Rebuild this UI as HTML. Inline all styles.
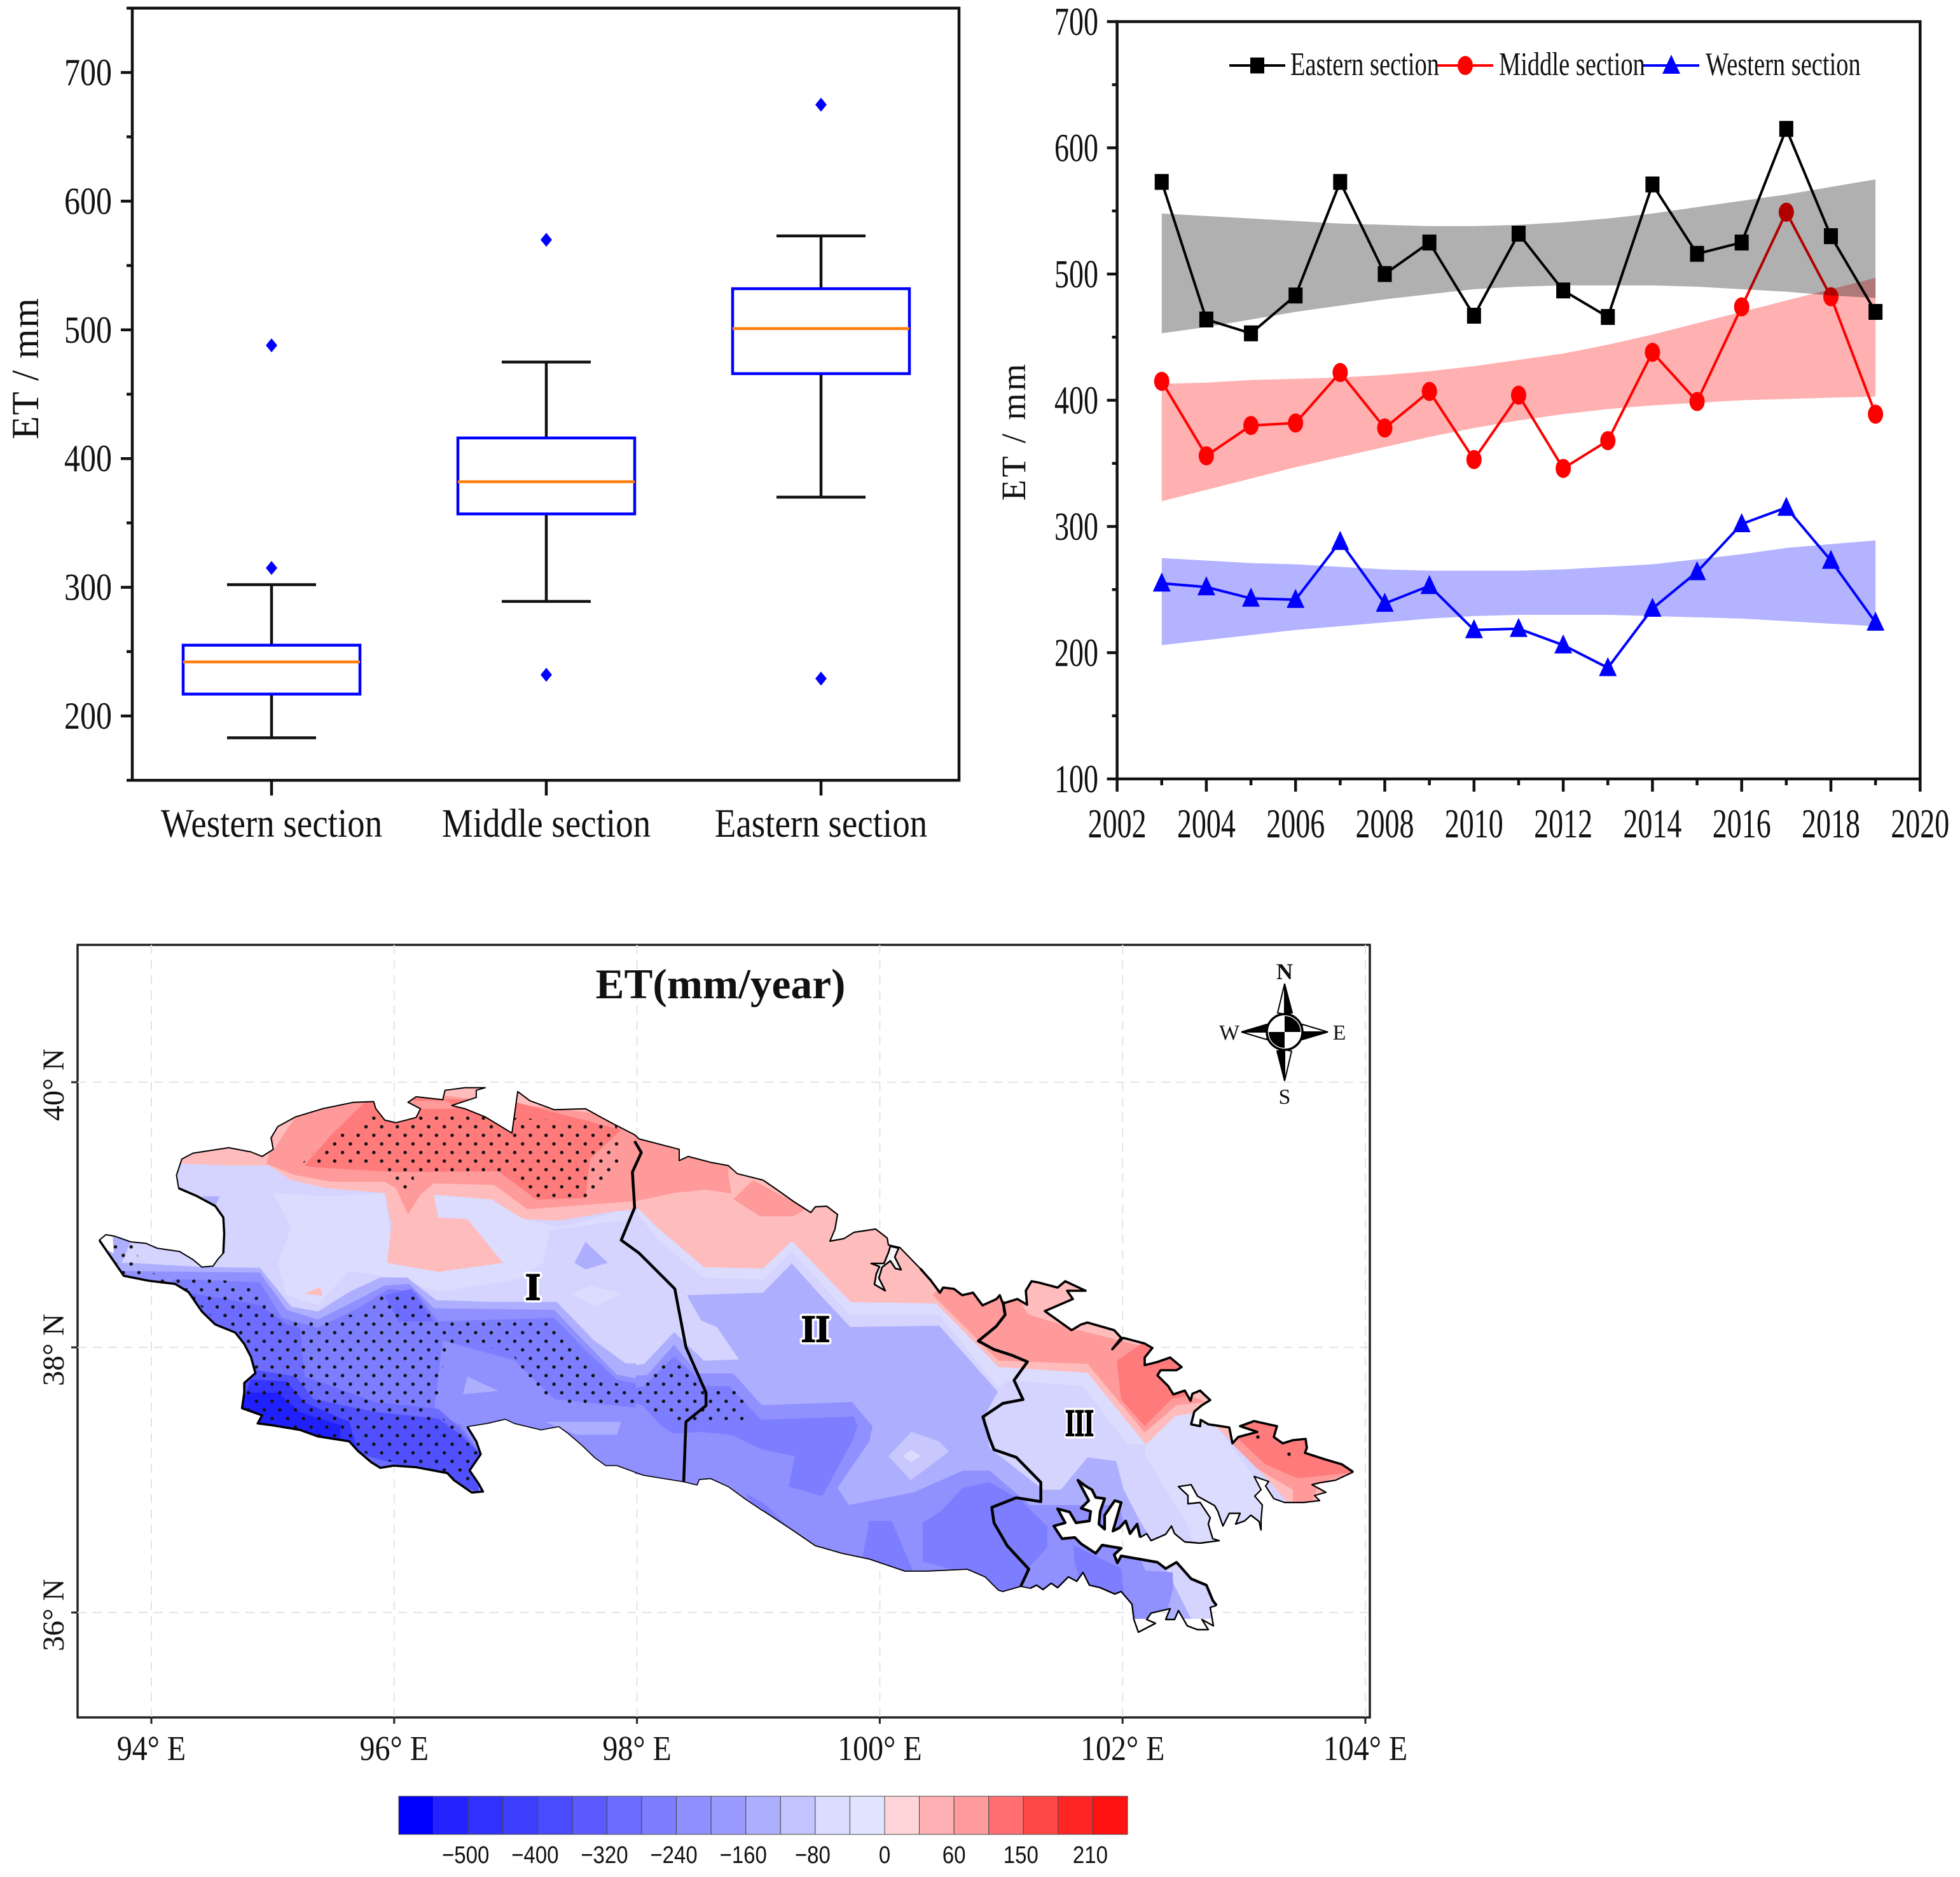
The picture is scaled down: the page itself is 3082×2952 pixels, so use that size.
<!DOCTYPE html>
<html lang="en">
<head>
<meta charset="utf-8">
<title>ET charts and map</title>
<style>
html,body{margin:0;padding:0;background:#fff}
svg{display:block}
text{font-family:"Liberation Serif",serif;fill:#111}
.sans{font-family:"Liberation Sans",sans-serif}
.nss{vector-effect:non-scaling-stroke}
.coast{fill:none;stroke:#000;stroke-linejoin:round;vector-effect:non-scaling-stroke}
.sec{fill:none;stroke:#000;stroke-width:4.5;stroke-linejoin:round;vector-effect:non-scaling-stroke}
</style>
</head>
<body>
<svg id="root" xmlns="http://www.w3.org/2000/svg" width="3082" height="2952" viewBox="0 0 3082 2952">
<rect width="3082" height="2952" fill="#fff"/>
<g id="boxChart"></g>
<g id="lineChart"></g>
<g id="mapAxes"></g>

<defs>
<pattern id="stipple" patternUnits="userSpaceOnUse" width="35.1" height="52.9">
<ellipse cx="11" cy="21.7" rx="3.85" ry="5.3" fill="#111"/>
<ellipse cx="28.5" cy="48.15" rx="3.85" ry="5.3" fill="#111"/>
<ellipse cx="28.5" cy="-4.75" rx="3.85" ry="5.3" fill="#111"/>
</pattern>
<clipPath id="clipLand">
<polygon transform="translate(100,1680) scale(.7015,.5102)" points="80,530 95,513 115,518 150,535 185,540 210,555 260,565 290,590 310,613 335,610 345,590 358,570 360,510 358,460 340,425 300,395 258,370 253,330 265,280 290,262 370,245 420,258 445,272 470,250 465,215 480,180 520,150 580,125 650,105 695,103 700,125 720,160 745,168 790,152 800,125 772,105 790,88 850,97 855,68 900,60 945,60 925,68 925,90 870,115 900,125 945,150 1005,200 1015,100 1018,72 1045,100 1100,128 1170,125 1230,170 1280,205 1290,218 1380,250 1380,285 1400,272 1450,290 1490,300 1510,325 1568,345 1568,1365 1530,1330 1490,1290 1450,1265 1425,1268 1420,1285 1390,1275 1300,1255 1240,1225 1215,1225 1190,1200 1160,1160 1130,1125 1110,1105 1070,1115 1010,1095 990,1082 950,1095 905,1105 925,1150 935,1190 910,1240 930,1280 940,1305 915,1308 875,1270 860,1248 790,1230 740,1225 710,1232 690,1215 660,1180 640,1150 570,1135 530,1115 465,1100 435,1095 445,1070 400,1048 405,1000 405,970 430,940 420,890 405,850 385,815 340,790 310,750 280,690 250,665 190,655 135,640 110,590 90,550"/>
<polygon points="998,1785 1005,1791 1068,1808 1068,1825 1082,1819 1117,1828 1145,1833 1159,1846 1200,1856 1226,1874 1247,1889 1275,1907 1282,1898 1300,1897 1317,1910 1313,1933 1305,1952 1327,1948 1343,1938 1377,1933 1395,1947 1397,1958 1415,1962 1447,1995 1463,2013 1478,2033 1483,2025 1500,2027 1513,2037 1530,2033 1545,2053 1567,2043 1572,2037 1577,2050 1600,2043 1615,2052 1613,2030 1622,2015 1633,2017 1663,2025 1675,2015 1707,2030 1678,2030 1687,2043 1643,2062 1685,2092 1700,2083 1710,2080 1752,2092 1763,2104 1749,2122 1766,2104 1800,2113 1812,2120 1800,2135 1800,2147 1820,2142 1840,2135 1858,2150 1850,2155 1825,2155 1820,2163 1837,2180 1845,2193 1863,2187 1872,2203 1875,2192 1887,2187 1903,2202 1890,2210 1878,2220 1873,2240 1887,2243 1888,2233 1900,2240 1933,2245 1938,2270 1947,2260 1977,2252 1950,2243 1972,2235 2008,2243 2003,2260 2017,2270 2033,2265 2053,2263 2055,2277 2052,2285 2083,2295 2110,2303 2128,2315 2100,2328 2075,2332 2063,2335 2085,2347 2067,2352 2075,2360 2050,2363 2020,2363 2003,2357 1990,2337 1995,2330 1972,2322 1983,2343 1973,2353 1985,2367 1983,2390 1983,2407 1980,2393 1967,2383 1957,2392 1943,2397 1950,2380 1933,2380 1923,2400 1915,2377 1910,2368 1883,2353 1873,2335 1853,2338 1868,2352 1868,2365 1887,2363 1903,2387 1900,2397 1907,2420 1917,2423 1887,2427 1863,2425 1847,2412 1842,2400 1833,2413 1810,2423 1803,2412 1793,2418 1788,2397 1777,2412 1770,2392 1760,2403 1750,2408 1763,2363 1753,2360 1737,2383 1737,2405 1728,2397 1730,2377 1737,2357 1723,2355 1717,2343 1707,2337 1695,2328 1703,2343 1712,2360 1700,2372 1715,2377 1713,2392 1692,2395 1682,2378 1663,2373 1675,2395 1657,2400 1670,2420 1690,2418 1700,2428 1723,2443 1733,2430 1763,2435 1752,2445 1757,2458 1763,2447 1820,2457 1833,2467 1850,2457 1873,2483 1897,2493 1907,2517 1913,2525 1903,2528 1908,2557 1890,2547 1900,2563 1883,2563 1867,2557 1853,2533 1847,2547 1833,2547 1840,2530 1810,2537 1803,2547 1817,2553 1790,2567 1783,2547 1780,2523 1763,2503 1753,2507 1730,2497 1713,2493 1703,2473 1693,2487 1680,2480 1663,2497 1653,2490 1640,2500 1630,2493 1620,2498 1605,2495 1577,2503 1570,2501 1549,2480 1521,2468 1458,2471 1423,2471 1367,2452 1324,2443 1300,2436 1282,2431 1247,2407 1200,2376 1173,2359 1145,2338 1117,2325 1100,2327 1096,2336 1075,2330 1012,2320 998,2318"/>
</clipPath>
</defs>

<g clip-path="url(#clipLand)">
<g transform="translate(100,1680) scale(.7015,.5102)">
<rect x="0" y="0" width="1568" height="1568" fill="#d4d4ff"/>
<polygon fill="#dcdcff" points="470,385 600,395 720,385 740,600 830,390 960,405 1030,465 1110,490 1250,440 1290,450 1250,470 1090,500 1075,600 1020,650 840,690 760,650 640,625 590,700 570,730 500,700 480,600 510,490"/>
<polygon fill="#ffbcbc" points="0,0 1568,0 1568,620 1440,610 1330,490 1290,435 1240,440 1110,470 1030,465 960,405 830,390 840,460 905,465 985,600 840,628 725,600 735,480 720,385 590,370 510,345 460,300 370,300 280,295 200,290"/>
<polygon fill="#ff9a9a" points="455,295 470,200 520,130 580,100 700,60 1568,200 1568,430 1500,400 1440,375 1370,385 1280,410 1040,435 965,360 830,355 800,390 772,450 745,370 720,350 600,350 520,330"/>
<polygon fill="#ffbcbc" points="470,180 520,150 490,210 470,255"/>
<polygon fill="#ff7a7a" points="540,300 600,205 675,105 700,90 1000,100 1250,190 1180,280 1170,400 1060,405 975,318 740,320 560,305"/>
<polygon fill="#ff9a9a" points="775,100 860,100 880,125 780,125"/>
<polygon fill="#aeaeff" points="310,395 350,395 340,425"/>
<polygon fill="#aeaeff" points="1145,600 1170,535 1220,600 1170,620"/>
<polygon fill="#dcdcff" points="1140,695 1180,670 1250,695 1190,735"/>
<polygon fill="#ffbcbc" points="540,695 575,675 580,702"/>
<polygon fill="#aeaeff" points="80,600 150,600 310,613 440,615 510,735 570,750 640,690 710,645 770,645 835,715 950,720 1105,720 1190,840 1260,910 1310,910 1370,810 1395,800 1395,700 1568,700 1568,1568 0,1568 0,600"/>
<polygon fill="#aeaeff" points="105,515 150,535 130,600 100,600"/>
<polygon fill="#9090ff" points="130,625 440,630 500,745 570,775 650,720 720,670 775,665 830,740 1100,745 1180,860 1240,945 1300,960 1370,860 1430,940 1490,950 1568,1000 1568,1568 0,1568 0,625"/>
<polygon fill="#7d7dff" points="250,650 440,660 490,770 570,800 660,740 730,680 790,690 840,780 1100,770 1170,870 1240,960 1310,980 1370,860 1430,960 1568,1000 1568,1150 1450,1120 1380,1130 1310,1050 1100,1020 1010,900 850,840 830,1060 890,1100 940,1200 900,1310 300,1200 100,800"/>
<polygon fill="#aeaeff" points="895,1005 905,950 975,995"/>
<polygon fill="#aeaeff" points="1080,1090 1250,1090 1240,1130 1150,1130"/>
<polygon fill="#6c6cff" points="270,690 440,730 500,790 530,800 540,950 700,1030 840,1050 880,1100 935,1190 900,1310 300,1200 150,640"/>
<polygon fill="#6c6cff" points="720,700 780,680 830,780 750,780"/>
<polygon fill="#5050ff" points="430,930 520,950 560,1020 700,1060 840,1080 890,1130 935,1190 930,1310 850,1260 640,1180 430,1100 390,1050 400,960"/>
<polygon fill="#3535ff" points="420,960 500,965 540,1030 640,1090 660,1180 430,1100 395,1050"/>
<polygon fill="#2020ff" points="410,1000 480,1000 530,1060 620,1100 620,1150 430,1100 395,1050"/>
<polygon fill="#fff" points="80,530 95,513 110,515 112,570 90,555"/>
</g>

<g>
<rect x="1000" y="1700" width="1200" height="900" fill="#d4d4ff"/>
<polygon fill="#ffbcbc" points="1000,1700 2200,1700 2200,2400 2030,2370 1997,2330 1917,2248 1880,2222 1848,2227 1802,2272 1710,2159 1570,2150 1472,2050 1338,2048 1245,1952 1200,1995 1107,1993 1033,1930 1005,1902 1000,1900"/>
<polygon fill="#ff9a9a" points="1000,1780 1210,1800 1145,1845 1150,1877 1110,1871 1061,1876 1000,1889"/>
<polygon fill="#ff9a9a" points="1153,1886 1184,1856 1268,1901 1247,1913 1195,1913"/>
<polygon fill="#ffbcbc" points="1145,1838 1180,1850 1152,1880"/>
<polygon fill="#dcdcff" points="1005,1902 1033,1930 1107,1993 1200,1995 1245,1952 1338,2048 1472,2050 1570,2150 1710,2159 1802,2272 1773,2272 1703,2180 1584,2171 1570,2183 1477,2068 1337,2068 1245,1968 1200,2012 1107,2010 1040,1955 1000,1907"/>
<polygon fill="#dcdcff" points="1800,2287 1867,2397 1877,2430 2000,2430 2000,2345 1970,2320 1917,2248 1880,2222 1848,2227 1802,2272"/>
<polygon fill="#aeaeff" points="1000,2147 1013,2145 1060,2095 1107,2140 1162,2138 1127,2087 1103,2077 1080,2037 1200,2033 1245,1987 1290,2037 1337,2087 1477,2085 1569,2189 1549,2225 1556,2277 1640,2343 1668,2343 1710,2292 1755,2298 1767,2343 1793,2393 1810,2420 1900,2600 1000,2600"/>
<polygon fill="#c8c8ff" points="1433,2252 1477,2267 1492,2283 1432,2328 1397,2290"/>
<polygon fill="#dcdcff" points="1433,2280 1447,2290 1433,2300 1420,2290"/>
<polygon fill="#9090ff" points="1000,2163 1017,2163 1060,2115 1097,2160 1153,2160 1198,2210 1340,2205 1372,2243 1367,2267 1317,2340 1335,2367 1437,2347 1514,2313 1556,2313 1620,2367 1760,2367 1767,2395 1801,2470 1844,2473 1845,2497 1837,2528 1790,2570 1000,2600"/>
<polygon fill="#7d7dff" points="1000,2183 1013,2180 1060,2133 1110,2180 1147,2180 1197,2233 1343,2228 1348,2243 1340,2267 1293,2353 1240,2338 1250,2290 1200,2280 1150,2257 1103,2252 1060,2255 1040,2243 1010,2210 1000,2207"/>
<polygon fill="#7d7dff" points="1451,2395 1479,2377 1514,2340 1556,2331 1605,2359 1647,2401 1647,2433 1620,2463 1605,2498 1570,2510 1542,2480 1451,2456"/>
<polygon fill="#7d7dff" points="1367,2392 1402,2392 1437,2474 1356,2450"/>
<polygon fill="#7d7dff" points="1174,2350 1202,2365 1251,2413 1191,2386"/>
<polygon fill="#7d7dff" points="1688,2430 1763,2467 1767,2505 1760,2510 1700,2490 1690,2460"/>
<polygon fill="#ff9a9a" points="1467,2037 1480,2020 1620,2020 1607,2053 1617,2067 1700,2093 1850,2130 1870,2195 1897,2205 1850,2210 1800,2253 1760,2205 1710,2145 1570,2140"/>
<polygon fill="#ff7a7a" points="1756,2140 1800,2110 1870,2130 1860,2180 1870,2195 1843,2200 1800,2243 1763,2201"/>
<polygon fill="#ff9a9a" points="1940,2273 1977,2310 2033,2343 2033,2370 2060,2370 2075,2332 2135,2315 2000,2235 1950,2240"/>
<polygon fill="#ff7a7a" points="1947,2263 1990,2303 2040,2325 2135,2315 2050,2265 2000,2235 1950,2240"/>
<rect x="1783" y="2546" width="140" height="30" fill="#fff"/>
<circle cx="2027" cy="2287" r="2.8" fill="#111"/>
<circle cx="1978" cy="2260" r="2.8" fill="#111"/>
</g>

<g transform="translate(100,1680) scale(.7015,.5102)">
<polygon fill="url(#stipple)" points="530,300 600,205 680,170 695,130 1240,170 1250,320 1190,370 1170,405 1055,405 1010,320 785,320 785,380 740,380 725,300"/>
<polygon fill="url(#stipple)" points="110,530 160,540 170,600 210,640 300,640 430,670 470,760 530,785 690,750 705,695 790,695 830,770 1090,770 1110,820 1210,960 1290,990 1350,900 1390,910 1440,980 1525,985 1530,1090 1370,1090 1300,1040 1160,1040 1070,1010 1000,870 860,850 840,1000 830,1060 880,1110 940,1180 920,1270 880,1280 640,1170 400,1060 410,860 280,700 130,640 100,570"/>
</g>
</g>

<g transform="translate(100,1680) scale(.7015,.5102)">
<polyline class="coast" stroke-width="2" points="80,530 95,513 115,518 150,535 185,540 210,555 260,565 290,590 310,613 335,610 345,590 358,570 360,510 358,460 340,425 300,395 258,370 253,330 265,280 290,262 370,245 420,258 445,272 470,250 465,215 480,180 520,150 580,125 650,105 695,103 700,125 720,160 745,168 790,152 800,125 772,105 790,88 850,97 855,68 900,60 945,60 925,68 925,90 870,115 900,125 945,150 1005,200 1015,100 1018,72 1045,100 1100,128 1170,125 1230,170 1280,205 1290,218 1380,250 1380,285 1400,272 1450,290 1490,300 1510,325 1568,345"/>
<polyline class="coast" stroke-width="3.5" points="358,570 360,510 358,460 340,425 300,395 258,370"/>
<polyline class="coast" stroke-width="1.6" points="1568,1365 1530,1330 1490,1290 1450,1265 1425,1268 1420,1285 1390,1275 1300,1255 1240,1225 1215,1225 1190,1200 1160,1160 1130,1125 1110,1105 1070,1115 1010,1095 990,1082 950,1095 905,1105"/>
<polyline class="coast" stroke-width="3.5" points="905,1105 925,1150 935,1190 910,1240 930,1280 940,1305 915,1308 875,1270 860,1248 790,1230 740,1225 710,1232 690,1215 660,1180 640,1150 570,1135 530,1115 465,1100 435,1095 445,1070 400,1048 405,1000 405,970 430,940 420,890 405,850 385,815 340,790 310,750 280,690 250,665 190,655 135,640 110,590 90,550 80,530"/>
<polyline class="sec" points="1280,225 1295,260 1275,320 1280,430 1250,530 1290,570 1370,680 1395,860 1440,1000 1440,1040 1395,1090 1390,1275"/>
</g>

<g>
<polyline class="coast" stroke-width="2.2" points="1200,1856 1226,1874 1247,1889 1275,1907 1282,1898 1300,1897 1317,1910 1313,1933 1305,1952 1327,1948 1343,1938 1377,1933 1395,1947 1397,1958 1415,1962 1447,1995"/>
<polyline class="coast" stroke-width="3.6" points="1447,1995 1463,2013 1478,2033 1483,2025 1500,2027 1513,2037 1530,2033 1545,2053 1567,2043 1572,2037 1577,2050 1600,2043 1615,2052 1613,2030 1622,2015 1633,2017 1663,2025 1675,2015 1707,2030 1678,2030 1687,2043 1643,2062 1685,2092 1700,2083 1710,2080 1752,2092 1763,2104 1749,2122 1766,2104 1800,2113 1812,2120 1800,2135 1800,2147 1820,2142 1840,2135 1858,2150 1850,2155 1825,2155 1820,2163 1837,2180 1845,2193 1863,2187 1872,2203 1875,2192 1887,2187 1903,2202 1890,2210 1878,2220 1873,2240 1887,2243 1888,2233 1900,2240 1933,2245 1938,2270 1947,2260 1977,2252 1950,2243 1972,2235 2008,2243 2003,2260 2017,2270 2033,2265 2053,2263 2055,2277 2052,2285 2083,2295 2110,2303 2128,2315"/>
<polyline class="coast" stroke-width="2.2" points="2128,2315 2100,2328 2075,2332 2063,2335 2085,2347 2067,2352 2075,2360 2050,2363 2020,2363 2003,2357 1990,2337 1995,2330 1972,2322 1983,2343 1973,2353 1985,2367 1983,2390 1983,2407"/>
<polyline class="coast" stroke-width="2.4" points="1983,2407 1980,2393 1967,2383 1957,2392 1943,2397 1950,2380 1933,2380 1923,2400 1915,2377 1910,2368 1883,2353 1873,2335 1853,2338 1868,2352 1868,2365 1887,2363 1903,2387 1900,2397 1907,2420 1917,2423 1887,2427 1863,2425 1847,2412 1842,2400 1833,2413 1810,2423 1803,2412 1793,2418"/>
<polyline class="coast" stroke-width="4.2" points="1793,2418 1788,2397 1777,2412 1770,2392 1760,2403 1750,2408 1763,2363 1753,2360 1737,2383 1737,2405 1728,2397 1730,2377 1737,2357 1723,2355 1717,2343 1707,2337 1695,2328 1703,2343 1712,2360 1700,2372 1715,2377 1713,2392 1692,2395 1682,2378 1663,2373 1675,2395 1657,2400 1670,2420 1690,2418 1700,2428 1723,2443 1733,2430 1763,2435 1752,2445 1757,2458 1763,2447 1820,2457 1833,2467 1850,2457 1873,2483 1897,2493 1907,2517 1913,2525"/>
<polyline class="coast" stroke-width="2.4" points="1913,2525 1903,2528 1908,2557 1890,2547 1900,2563 1883,2563 1867,2557 1853,2533 1847,2547 1833,2547 1840,2530 1810,2537 1803,2547 1817,2553 1790,2567 1783,2547 1780,2523 1763,2503 1753,2507 1730,2497 1713,2493 1703,2473 1693,2487 1680,2480 1663,2497 1653,2490 1640,2500 1630,2493 1620,2498"/>
<polyline class="coast" stroke-width="1.8" points="1620,2498 1605,2495 1577,2503 1570,2501 1549,2480 1521,2468 1458,2471 1423,2471 1367,2452 1324,2443 1300,2436 1282,2431 1247,2407 1200,2376"/>
<polygon fill="#f4f4f4" stroke="#000" stroke-width="2.6" stroke-linejoin="round" points="1370,1987 1390,1987 1397,1970 1400,1960 1413,1963 1407,1977 1417,1997 1408,1995 1400,1983 1387,1993 1382,2010 1392,2030 1375,2020 1378,2003 1383,1992"/>
<g transform="translate(1100,1680) scale(.7015,.6059)">
<polyline class="sec" points="680,605 685,640 665,670 625,708 660,730 700,745 735,762 705,810 725,860 680,870 635,905 650,960 660,990 710,1010 765,1075 765,1125 710,1115 655,1140 660,1180 690,1240 738,1300 720,1345"/>
</g>
</g>

<g font-weight="bold" font-size="60">
<text x="826" y="2044" stroke="#fff" stroke-width="9" stroke-linejoin="round" style="fill:#fff" textLength="24" lengthAdjust="spacingAndGlyphs">I</text>
<text x="826" y="2044" stroke="#000" stroke-width="2" style="fill:#000" textLength="24" lengthAdjust="spacingAndGlyphs">I</text>
<text x="1260" y="2110" stroke="#fff" stroke-width="9" stroke-linejoin="round" style="fill:#fff" textLength="45" lengthAdjust="spacingAndGlyphs">II</text>
<text x="1260" y="2110" stroke="#000" stroke-width="2" style="fill:#000" textLength="45" lengthAdjust="spacingAndGlyphs">II</text>
<text x="1675" y="2258" stroke="#fff" stroke-width="9" stroke-linejoin="round" style="fill:#fff" textLength="45" lengthAdjust="spacingAndGlyphs">III</text>
<text x="1675" y="2258" stroke="#000" stroke-width="2" style="fill:#000" textLength="45" lengthAdjust="spacingAndGlyphs">III</text>
</g>

<text x="1133" y="1570" text-anchor="middle" font-size="67" font-weight="bold" textLength="393" lengthAdjust="spacingAndGlyphs">ET(mm/year)</text>

<g transform="translate(2020,1623)">
<polygon points="0,-76 -11,-30 0,-28" fill="#fff" stroke="#000" stroke-width="2"/>
<polygon points="0,-76 12,-30 0,-28" fill="#000" stroke="#000" stroke-width="2"/>
<polygon points="68,0 28,-12 26,0" fill="#fff" stroke="#000" stroke-width="2"/>
<polygon points="68,0 28,12 26,0" fill="#000" stroke="#000" stroke-width="2"/>
<polygon points="0,77 11,30 0,28" fill="#fff" stroke="#000" stroke-width="2"/>
<polygon points="0,77 -12,30 0,28" fill="#000" stroke="#000" stroke-width="2"/>
<polygon points="-68,0 -28,12 -26,0" fill="#fff" stroke="#000" stroke-width="2"/>
<polygon points="-68,0 -28,-12 -26,0" fill="#000" stroke="#000" stroke-width="2"/>
<circle r="28" fill="#fff" stroke="#000" stroke-width="3.5"/>
<path d="M0 0V-25A25 25 0 0 1 25 0Z" fill="#000"/>
<path d="M0 0V25A25 25 0 0 1 -25 0Z" fill="#000"/>
<text x="0" y="-83" text-anchor="middle" font-size="36" font-weight="bold">N</text>
<text x="0" y="113" text-anchor="middle" font-size="34">S</text>
<text x="-87" y="12" text-anchor="middle" font-size="34">W</text>
<text x="86" y="12" text-anchor="middle" font-size="34">E</text>
</g>

<g id="colorbar"></g>

<script>
// ---------- box plot data ----------
const boxCategories = ['Western section','Middle section','Eastern section'];
const boxQ1 = [217,357,466];
const boxMedian = [242,382,501];
const boxQ3 = [255,416,532];
const boxWhiskerLow = [183,289,370];
const boxWhiskerHigh = [302,475,573];
const boxFliers = [[488,315],[570,232],[675,229]];
const boxYTicks = [200,300,400,500,600,700];
const boxYMinorTicks = [150,250,350,450,550,650,750];

// ---------- time series data ----------
const years = [2003,2004,2005,2006,2007,2008,2009,2010,2011,2012,2013,2014,2015,2016,2017,2018,2019];
const easternValues = [573,464,453,483,573,500,525,467,532,487,466,571,516,525,615,530,470];
const middleValues = [415,356,380,382,422,378,407,353,404,346,368,438,399,474,549,482,389];
const westernValues = [255,252,243,242,288,239,253,218,219,206,188,235,264,302,315,273,224];
const easternUpper = [548,546,544,542,540,539,538,538,539,541,544,548,553,558,563,569,575];
const easternLower = [453,458,464,470,475,480,484,488,490,491,491,491,490,488,486,483,481];
const middleUpper = [413,414,416,417,418,420,423,427,432,437,444,452,461,470,479,488,497];
const middleLower = [320,329,338,347,355,363,371,378,384,389,393,396,398,400,401,402,403];
const westernUpper = [275,273,271,270,268,266,265,265,265,266,268,270,274,278,283,286,289];
const westernLower = [206,210,214,218,221,224,227,229,230,230,230,229,228,227,225,223,221];
const lineXTicks = [2002,2004,2006,2008,2010,2012,2014,2016,2018,2020];
const lineXMinorTicks = [2003,2005,2007,2009,2011,2013,2015,2017,2019];
const lineYTicks = [100,200,300,400,500,600,700];
const lineYMinorTicks = [150,250,350,450,550,650];

// ---------- map axis + colorbar data ----------
const mapLonTicks = [94,96,98,100,102,104];
const mapLatTicks = [40,38,36];
const colorbarColors = ['#0000ff','#2222ff','#3030ff','#3e3eff','#4a4aff','#5a5aff','#6c6cff','#7d7dff','#8f8fff','#9b9bff','#aeaeff','#c3c3ff','#dcdcff','#e2e5ff','#ffd4d8','#ffb0b4','#ff9a9e','#ff6f72','#ff4949','#ff2525','#ff1212'];
const colorbarLabels = ['\u2212500','\u2212400','\u2212320','\u2212240','\u2212160','\u221280','0','60','150','210'];

const NS = 'http://www.w3.org/2000/svg';
function mk(tag, parent, attrs){
  const el = document.createElementNS(NS, tag);
  for (const k in attrs) el.setAttribute(k, attrs[k]);
  parent.appendChild(el);
  return el;
}
function label(parent, x, y, str, size, sy, anchor, rot, cls){
  const t = 'translate(' + x + ',' + y + ')' + (rot ? ' rotate(' + rot + ')' : '') + ' scale(1,' + sy + ')';
  const el = mk('text', parent, {transform: t, 'font-size': size, 'text-anchor': anchor});
  if (cls) el.setAttribute('class', cls);
  el.textContent = str;
  return el;
}
const boxG = document.getElementById('boxChart');
const lineG = document.getElementById('lineChart');
const mapG = document.getElementById('mapAxes');
const cbG = document.getElementById('colorbar');

// ---------- box plot ----------
const bx = i => 427 + 432 * i;
const by = v => 1126 - (v - 200) * 2.024;
const boxL = 208, boxR = 1508;

const boxFrame = mk('rect', boxG, {x: boxL, y: by(750), width: boxR - boxL, height: by(150) - by(750), fill: 'none', stroke: '#111', 'stroke-width': 4.5});



boxYTicks.forEach(v => {
  const tk = mk('line', boxG, {x1: boxL - 18, x2: boxL, y1: by(v), y2: by(v), stroke: '#111', 'stroke-width': 4.5});
  
  
  const lb = label(boxG, 176, by(v) + 20, String(v), 50, 1.2, 'end');
  
  
});
boxYMinorTicks.forEach(v => {
  const tk = mk('line', boxG, {x1: boxL - 9, x2: boxL, y1: by(v), y2: by(v), stroke: '#111', 'stroke-width': 4.5});
  
  
});
const boxTitle = mk('text', boxG, {transform: 'translate(60,580) rotate(-90)', 'font-size': 60, 'text-anchor': 'middle', textLength: 222, lengthAdjust: 'spacing'});
boxTitle.textContent = 'ET / mm';



boxCategories.forEach((c, i) => {
  const cx = bx(i);
  const tk = mk('line', boxG, {x1: cx, x2: cx, y1: by(150), y2: by(150) + 24, stroke: '#111', 'stroke-width': 4.5});
  
  
  const lb = label(boxG, cx, 1316, c, 55, 1.15, 'middle');
  
  

  const wLow = mk('line', boxG, {x1: cx, x2: cx, y1: by(boxQ1[i]), y2: by(boxWhiskerLow[i]), stroke: '#111', 'stroke-width': 4.5});
  
  
  const wHigh = mk('line', boxG, {x1: cx, x2: cx, y1: by(boxQ3[i]), y2: by(boxWhiskerHigh[i]), stroke: '#111', 'stroke-width': 4.5});
  
  
  const capLow = mk('line', boxG, {x1: cx - 70, x2: cx + 70, y1: by(boxWhiskerLow[i]), y2: by(boxWhiskerLow[i]), stroke: '#111', 'stroke-width': 4.5});
  
  
  const capHigh = mk('line', boxG, {x1: cx - 70, x2: cx + 70, y1: by(boxWhiskerHigh[i]), y2: by(boxWhiskerHigh[i]), stroke: '#111', 'stroke-width': 4.5});
  
  
  const box = mk('rect', boxG, {x: cx - 139, width: 278, y: by(boxQ3[i]), height: by(boxQ1[i]) - by(boxQ3[i]), fill: '#fff', stroke: '#0000ff', 'stroke-width': 4.5});
  
  
  const med = mk('line', boxG, {x1: cx - 139, x2: cx + 139, y1: by(boxMedian[i]), y2: by(boxMedian[i]), stroke: '#ff7f0e', 'stroke-width': 4.5});
  
  
  boxFliers[i].forEach(v => {
    const y = by(v);
    const fl = mk('polygon', boxG, {points: [cx, y - 11, cx + 9, y, cx, y + 11, cx - 9, y].join(','), fill: '#0000ff'});
    
    
  });
});

// ---------- time series ----------
const lx = yr => 1756.6 + (yr - 2002) * 70.15;
const ly = v => 1225 - (v - 100) * 1.985;
const lineB = ly(100), lineL = lx(2002), lineR = lx(2020), lineT = ly(700);

function bandPath(upper, lower){
  const top = years.map((yr, i) => lx(yr) + ',' + ly(upper[i]));
  const bot = years.map((yr, i) => lx(yr) + ',' + ly(lower[i])).reverse();
  return top.concat(bot).join(' ');
}
function seriesPath(vals){
  return years.map((yr, i) => lx(yr) + ',' + ly(vals[i])).join(' ');
}
function marker(parent, kind, x, y, color){
  if (kind === 'square') return mk('rect', parent, {x: x - 11, y: y - 12.5, width: 22, height: 25, fill: color});
  if (kind === 'circle') return mk('ellipse', parent, {cx: x, cy: y, rx: 12, ry: 15, fill: color});
  return mk('polygon', parent, {points: [x, y - 17, x + 14, y + 13, x - 14, y + 13].join(','), fill: color});
}

const bandMid = mk('polygon', lineG, {points: bandPath(middleUpper, middleLower), fill: '#ffb0b0'});


const bandWest = mk('polygon', lineG, {points: bandPath(westernUpper, westernLower), fill: '#b3b3ff'});



const lineMid = mk('polyline', lineG, {points: seriesPath(middleValues), fill: 'none', stroke: '#ff0000', 'stroke-width': 4});


years.forEach((yr, i) => {
  const m = marker(lineG, 'circle', lx(yr), ly(middleValues[i]), '#ff0000');
  
  
});
const lineWest = mk('polyline', lineG, {points: seriesPath(westernValues), fill: 'none', stroke: '#0000ff', 'stroke-width': 4});


years.forEach((yr, i) => {
  const m = marker(lineG, 'triangle', lx(yr), ly(westernValues[i]), '#0000ff');
  
  
});
const bandEast = mk('polygon', lineG, {points: bandPath(easternUpper, easternLower), fill: '#000', 'fill-opacity': 0.31});


const lineEast = mk('polyline', lineG, {points: seriesPath(easternValues), fill: 'none', stroke: '#000', 'stroke-width': 4});


years.forEach((yr, i) => {
  const m = marker(lineG, 'square', lx(yr), ly(easternValues[i]), '#000');
  
  
});

const lineFrame = mk('rect', lineG, {x: lineL, y: lineT, width: lineR - lineL, height: lineB - lineT, fill: 'none', stroke: '#111', 'stroke-width': 4.5});



lineYTicks.forEach(v => {
  const tk = mk('line', lineG, {x1: lineL - 16, x2: lineL, y1: ly(v), y2: ly(v), stroke: '#111', 'stroke-width': 4.5});
  
  
  const lb = label(lineG, 1727, ly(v) + 21, String(v), 46, 1.35, 'end');
  
  
});
lineYMinorTicks.forEach(v => {
  const tk = mk('line', lineG, {x1: lineL - 8, x2: lineL, y1: ly(v), y2: ly(v), stroke: '#111', 'stroke-width': 4.5});
  
  
});
lineXTicks.forEach(yr => {
  const tk = mk('line', lineG, {x1: lx(yr), x2: lx(yr), y1: lineB, y2: lineB + 20, stroke: '#111', 'stroke-width': 4.5});
  
  
  const lb = label(lineG, lx(yr), 1317, String(yr), 46, 1.4, 'middle');
  
  
});
lineXMinorTicks.forEach(yr => {
  const tk = mk('line', lineG, {x1: lx(yr), x2: lx(yr), y1: lineB, y2: lineB + 10, stroke: '#111', 'stroke-width': 4.5});
  
  
});
const lineTitle = mk('text', lineG, {transform: 'translate(1612,680) rotate(-90)', 'font-size': 54, 'text-anchor': 'middle', textLength: 215, lengthAdjust: 'spacing'});
lineTitle.textContent = 'ET / mm';



// legend
const legY = 103;
const legendNames = ['Eastern section','Middle section','Western section'];
const legendColors = ['#000','#ff0000','#0000ff'];
const legendKinds = ['square','circle','triangle'];
const legendLineStart = [1933,2260,2584];
const legendTextStart = [2029,2357,2682];
legendNames.forEach((nm, i) => {
  const ln = mk('line', lineG, {x1: legendLineStart[i], x2: legendLineStart[i] + 88, y1: legY, y2: legY, stroke: legendColors[i], 'stroke-width': 4});
  
  
  const m = marker(lineG, legendKinds[i], legendLineStart[i] + 44, legY, legendColors[i]);
  
  
  const tx = label(lineG, legendTextStart[i], 118, nm, 38.5, 1.35, 'start');
  
  
});

// ---------- map axes ----------
const mlon = d => 238 + (d - 94) * 190.9;
const mlat = d => 1702 + (40 - d) * 208.5;
const mapL = 122, mapR = 2154, mapT = 1486, mapB = 2701;
const mapBg = mk('rect', mapG, {x: mapL, y: mapT, width: mapR - mapL, height: mapB - mapT, fill: '#fff', stroke: '#222', 'stroke-width': 3.5});


mapLonTicks.forEach(d => {
  const gl = mk('line', mapG, {x1: mlon(d), x2: mlon(d), y1: mapT, y2: mapB, stroke: '#e4e4e4', 'stroke-width': 2, 'stroke-dasharray': '14 10'});
  
  
  const tk = mk('line', mapG, {x1: mlon(d), x2: mlon(d), y1: mapB, y2: mapB + 10, stroke: '#222', 'stroke-width': 3});
  
  
  const lb = label(mapG, mlon(d), 2768, d + '\u00B0 E', 48, 1.15, 'middle');
  
  
});
mapLatTicks.forEach(d => {
  const gl = mk('line', mapG, {x1: mapL, x2: mapR, y1: mlat(d), y2: mlat(d), stroke: '#e4e4e4', 'stroke-width': 2, 'stroke-dasharray': '14 10'});
  
  
  const tk = mk('line', mapG, {x1: mapL - 10, x2: mapL, y1: mlat(d), y2: mlat(d), stroke: '#222', 'stroke-width': 3});
  
  
  const lb = label(mapG, 100, mlat(d) + 4, d + '\u00B0 N', 48, 1, 'middle', -90);
  
  
});

// ---------- colorbar ----------
const cbX = 627, cbY = 2825, cbH = 60, cbW = 1146 / colorbarColors.length;
colorbarColors.forEach((c, i) => {
  const cell = mk('rect', cbG, {x: cbX + i * cbW, y: cbY, width: cbW, height: cbH, fill: c, stroke: '#444', 'stroke-width': 1});
  
  
});
colorbarLabels.forEach((s, i) => {
  const lb = label(cbG, cbX + (i + 1) * 2 * cbW - (s.length > 2 ? 4 : 0), 2930, s, 33, 1.15, 'middle', 0, 'sans');
  
  
});
</script>
</svg>
</body>
</html>
